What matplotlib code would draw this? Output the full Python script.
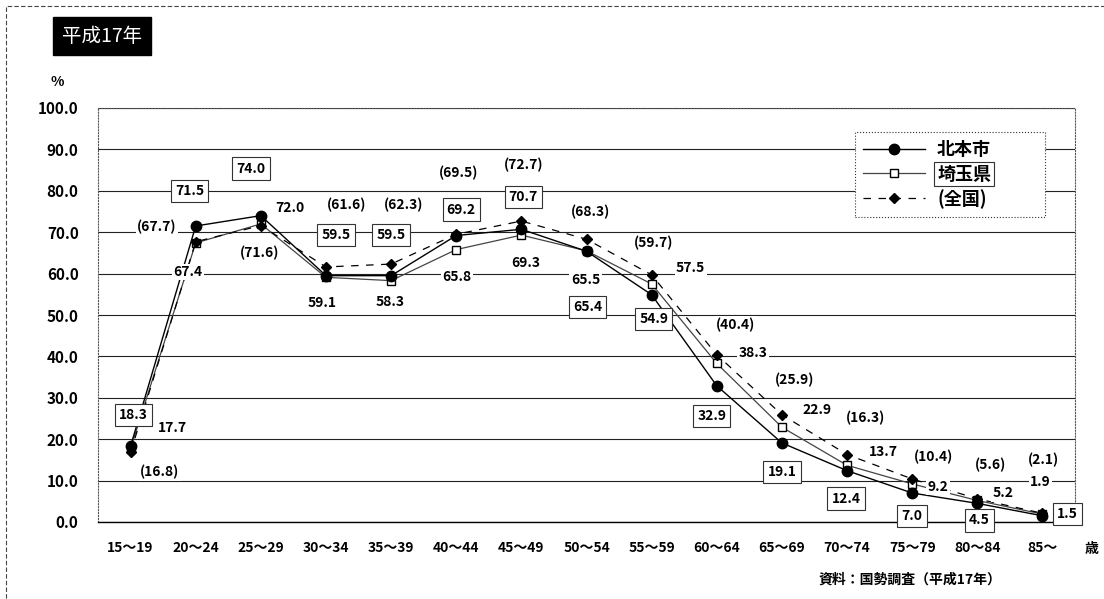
import numpy as np
import matplotlib.pyplot as plt
from matplotlib.patches import Rectangle

plt.rcParams['font.family'] = ['Noto Sans CJK JP', 'DejaVu Sans']

# データ（国勢調査 平成17年 女性の年齢別労働力率）
ages = ['15～19', '20～24', '25～29', '30～34', '35～39', '40～44', '45～49',
        '50～54', '55～59', '60～64', '65～69', '70～74', '75～79', '80～84', '85～']
kitamoto = [18.3, 71.5, 74.0, 59.5, 59.5, 69.2, 70.7, 65.4, 54.9, 32.9, 19.1, 12.4, 7.0, 4.5, 1.5]
saitama = [17.7, 67.4, 72.0, 59.1, 58.3, 65.8, 69.3, 65.5, 57.5, 38.3, 22.9, 13.7, 9.2, 5.2, 1.9]
zenkoku = [16.8, 67.7, 71.6, 61.6, 62.3, 69.5, 72.7, 68.3, 59.7, 40.4, 25.9, 16.3, 10.4, 5.6, 2.1]

# ラベル位置（ピクセルのずれ、画像座標: 下向きが正）
off_kita = [(3, -31), (-6, -35), (-10, -47), (10, -41), (0, -41), (5, -26), (2, -32), (1, 56),
            (2, 24), (-5, 30), (0, 29), (-1, 28), (0, 23), (2, 17), (25, -2)]
off_sai = [(42, -21), (-8, 29), (29, -16), (-4, 26), (-1, 21), (1, 27), (4, 28), (-1, 29),
           (39, -16), (36, -10), (35, -17), (36, -13), (26, 3), (26, -7), (-2, -32)]
off_zen = [(29, 20), (-39, -15), (-1, 27), (21, -62), (12, -59), (2, -61), (2, -56), (4, -27),
           (2, -32), (19, -30), (13, -35), (18, -37), (21, -22), (13, -34), (1, -53)]

W, H = 1104, 599
fig = plt.figure(figsize=(W / 100, H / 100), dpi=100)
ax = fig.add_axes([98 / W, 1 - 522 / H, 977 / W, 414 / H])

x = np.arange(len(ages)) + 0.5

ax.plot(x, saitama, color='#444444', lw=0.9, marker='s', ms=6, mfc='white', mec='black',
        mew=1.0, label='埼玉県', zorder=3)
ax.plot(x, zenkoku, color='black', lw=0.9, ls=(0, (6, 6)), marker='D', ms=5, mfc='black',
        mec='black', label='(全国)', zorder=3)
ax.plot(x, kitamoto, color='black', lw=1.0, marker='o', ms=7.5, mfc='black', mec='black',
        label='北本市', zorder=4)

fs = 10
for xi, v, (dx, dy) in zip(x, kitamoto, off_kita):
    ax.annotate(f'{v:.1f}', xy=(xi, v), xytext=(dx, -dy), textcoords='offset pixels',
                ha='center', va='center', fontsize=fs, fontweight='bold', zorder=6,
                bbox=dict(boxstyle='square,pad=0.3', fc='white', ec='#333333', lw=0.8))
for xi, v, (dx, dy) in zip(x, saitama, off_sai):
    ax.annotate(f'{v:.1f}', xy=(xi, v), xytext=(dx, -dy), textcoords='offset pixels',
                ha='center', va='center', fontsize=fs, fontweight='bold', zorder=6,
                bbox=dict(boxstyle='square,pad=0.1', fc='white', ec='none'))
for xi, v, (dx, dy) in zip(x, zenkoku, off_zen):
    ax.annotate(f'({v:.1f})', xy=(xi, v), xytext=(dx, -dy), textcoords='offset pixels',
                ha='center', va='center', fontsize=fs, fontweight='bold', zorder=6,
                bbox=dict(boxstyle='square,pad=0.1', fc='white', ec='none'))

ax.set_xlim(0, len(ages))
ax.set_ylim(0, 100)
ax.set_yticks(np.arange(0, 101, 10))
ax.set_yticklabels([f'{t:.1f}' for t in np.arange(0, 101, 10)], fontsize=11, fontweight='bold')
ax.set_xticks(x)
ax.set_xticklabels(ages, fontsize=10, fontweight='bold')
ax.tick_params(length=0, pad=14)
ax.tick_params(axis='y', pad=14)
ax.grid(axis='y', color='#222222', lw=0.8)
ax.set_axisbelow(True)
for s in ['left', 'right', 'top']:
    ax.spines[s].set_linestyle(':')
    ax.spines[s].set_color('#555555')
ax.spines['bottom'].set_linewidth(1.0)

leg = ax.legend(handles=[ax.lines[2], ax.lines[0], ax.lines[1]], loc='upper left',
                bbox_to_anchor=((855 - 98) / 977, (522 - 218) / 414, 190 / 977, 86 / 414),
                mode='expand', frameon=True,
                fancybox=False, edgecolor='#333333', framealpha=1, handlelength=3.4,
                prop={'size': 13, 'weight': 'bold'}, borderpad=0.45, labelspacing=0.3,
                handletextpad=0.7, borderaxespad=0)
leg.get_frame().set_linewidth(0.8)
leg.get_frame().set_linestyle(':')
leg.get_texts()[1].set_bbox(dict(boxstyle='square,pad=0.15', fc='white', ec='#333333', lw=0.8))

# タイトル・注記
fig.text(102 / W, 1 - 36 / H, '平成17年', color='white', fontsize=14, ha='center', va='center',
         bbox=dict(boxstyle='square,pad=0.45', fc='black', ec='black'))
fig.text(57 / W, 1 - 82 / H, '%', fontsize=10, fontweight='bold', ha='center', va='center')
fig.text(1092 / W, 1 - 549 / H, '歳', fontsize=10, fontweight='bold', ha='center', va='center')
fig.text(910 / W, 1 - 580 / H, '資料：国勢調査（平成17年）', fontsize=10, fontweight='bold',
         ha='center', va='center')

# 外枠
fig.patches.append(Rectangle((6 / W, -0.1), 1.2, 1 - 6 / H + 0.1, transform=fig.transFigure,
                             fill=False, ec='#444444', lw=0.8, ls=(0, (4, 2))))

fig.savefig('out.png', dpi=100)
